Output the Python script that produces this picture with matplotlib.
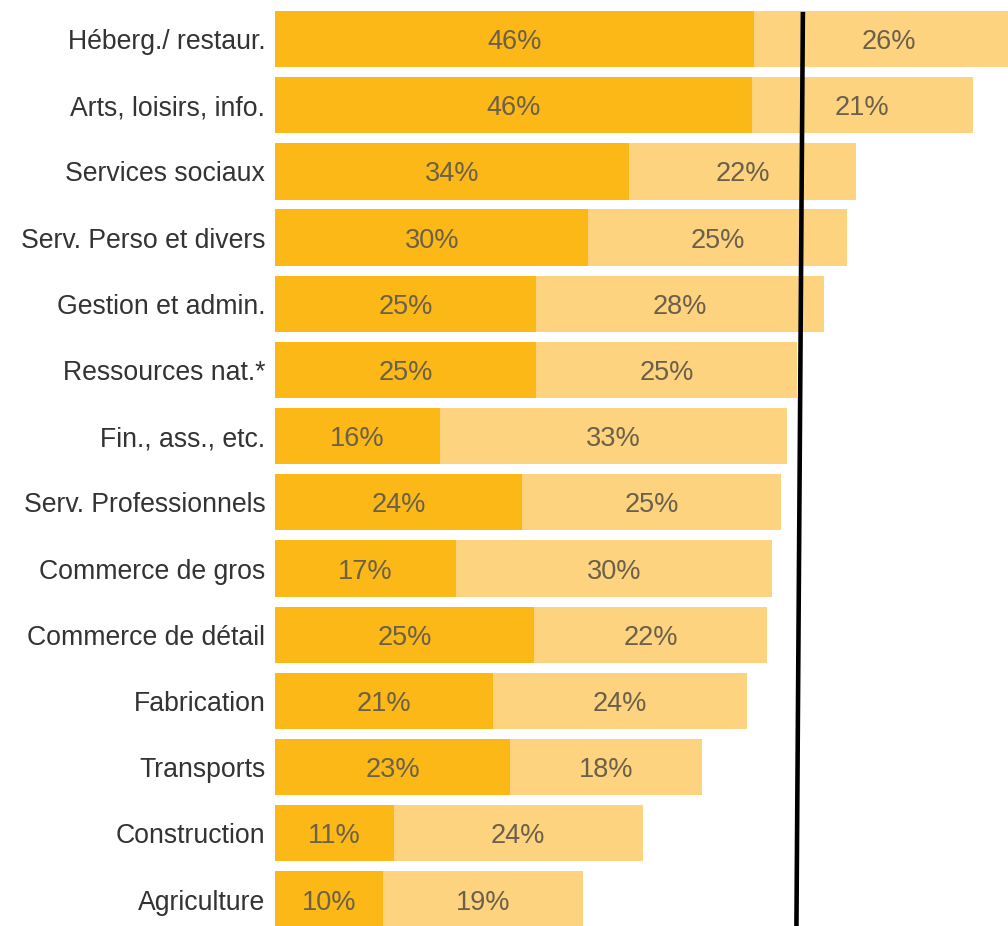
import numpy as np
import matplotlib.pyplot as plt

categories = ["Héberg./ restaur.", "Arts, loisirs, info.", "Services sociaux",
              "Serv. Perso et divers", "Gestion et admin.", "Ressources nat.*",
              "Fin., ass., etc.", "Serv. Professionnels", "Commerce de gros",
              "Commerce de détail", "Fabrication", "Transports",
              "Construction", "Agriculture"]
dark = [46.0, 45.8, 34.0, 30.1, 25.1, 25.1, 15.8, 23.7, 17.4, 24.9, 20.9, 22.6, 11.4, 10.4]
light = [26.0, 21.2, 21.8, 24.8, 27.6, 25.0, 33.4, 24.9, 30.3, 22.4, 24.4, 18.4, 23.9, 19.2]
ref_line_x = [50.7, 50.08]

dark_col = "#FBB817"
light_col = "#FDD37F"
val_col = "#6b6049"

if __name__ == "__main__":
    plt.rcParams['font.family'] = ['Liberation Sans', 'DejaVu Sans']

    fig = plt.figure(figsize=(10.08, 9.26), dpi=100)
    ax = fig.add_axes([275/1008, 0, 1 - 275/1008, 1])

    y = np.arange(len(categories))
    ax.barh(y, dark, height=0.85, color=dark_col)
    ax.barh(y, light, left=dark, height=0.85, color=light_col)

    for i in range(len(categories)):
        ax.text(dark[i]/2, y[i], "%d%%" % round(dark[i]), ha='center',
                va='center_baseline', fontsize=19.5, color=val_col)
        ax.text(dark[i] + light[i]/2, y[i], "%d%%" % round(light[i]), ha='center',
                va='center_baseline', fontsize=19.5, color=val_col)

    ax.plot(ref_line_x, [-0.41, 13.40], color='black', lw=3.3, solid_capstyle='butt')

    ax.set_xlim(0, 70.4)
    ax.set_ylim(13.40, -0.589)
    ax.set_yticks(y)
    ax.set_yticklabels(categories, fontsize=19.2, color='#333333')
    ax.tick_params(axis='y', length=0, pad=7)
    ax.set_xticks([])
    for s in ax.spines.values():
        s.set_visible(False)

    fig.savefig("out.png", dpi=100)
